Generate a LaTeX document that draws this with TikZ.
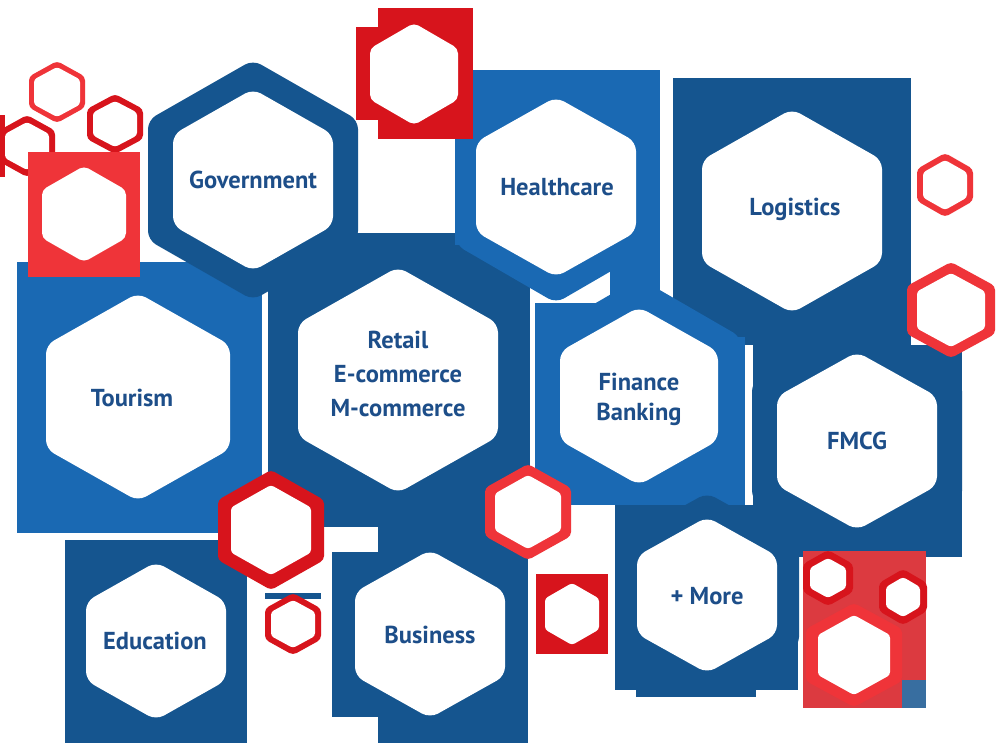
\documentclass[tikz,border=0pt]{standalone}
\usepackage{fontspec}
\setmainfont{PT Sans}
\definecolor{dblue}{HTML}{15558F}
\definecolor{lblue}{HTML}{1A69B3}
\definecolor{dred}{HTML}{D7141C}
\definecolor{lred}{HTML}{EF3439}
\definecolor{mred}{HTML}{DC3A40}
\definecolor{txtblue}{HTML}{1D4E89}
% hexagon (pointy top): centre x, centre y, half width, half height
\newcommand\hexshape[4]{(#1-#3,#2) -- (#1-#3,#2-#4/2) -- (#1,#2-#4) -- (#1+#3,#2-#4/2) -- (#1+#3,#2+#4/2) -- (#1,#2+#4) -- (#1-#3,#2+#4/2) -- cycle}
% ring: colour, cx, cy, outer hw, outer hh, inner hw, inner hh
\newcommand\hexring[7]{%
  \fill[#1,rounded corners=4pt] \hexshape{#2}{#3}{#4}{#5};
  \fill[white,rounded corners=3pt] \hexshape{#2}{#3}{#6}{#7};}
\tikzset{
  rc/.style={rounded corners=9pt},
  lbl/.style={text=txtblue, align=center, inner sep=0pt,
    font=\fontsize{24.5}{34}\selectfont\bfseries},
  lbltwo/.style={lbl, font=\fontsize{24.5}{30}\selectfont\bfseries},
}
\begin{document}
\begin{tikzpicture}[x=1pt,y=-1pt]
\useasboundingbox (0,0) rectangle (1000,750);
\fill[white] (0,0) rectangle (1000,750);

% Tourism
\fill[lblue] (17,262) rectangle (262,533);
\fill[white,rc] \hexshape{138}{397}{92}{104};
\node[lbl] (tourism) at (132,398) {Tourism};

% Retail
\fill[dblue] (268,233) rectangle (530,527);
\fill[white,rc] \hexshape{398}{380}{100}{113};
\node[lbl] (retail) at (398,374) {Retail\\E-commerce\\M-commerce};

% Government
\fill[dblue,rc] \hexshape{253}{180}{105}{120};
\fill[white,rc] \hexshape{253}{180}{80}{91};
\node[lbl] (gov) at (253,180) {Government};

% Healthcare
\fill[lblue] (455,70) rectangle (660,245);
\fill[lblue] (610,245) rectangle (660,300);
\fill[lblue,rc] \hexshape{556}{187}{100}{116};
\fill[white,rc] \hexshape{556}{187}{80}{90};
\node[lbl] (health) at (557,187) {Healthcare};

% Logistics
\fill[dblue] (673,78) rectangle (911,345);
\fill[dblue,rc] \hexshape{792}{211}{112}{130};
\fill[white,rc] \hexshape{792}{211}{90}{102};
\node[lbl] (logistics) at (795,209) {Logistics};

% Finance
\fill[lblue] (535,337) rectangle (745,505);
\fill[lblue] (535,303) rectangle (640,337);
\fill[lblue,rc] \hexshape{639}{396}{102}{118};
\fill[white,rc] \hexshape{639}{396}{79}{89};
\node[lbltwo] (finance) at (639,399) {Finance\\Banking};

% FMCG
\fill[dblue] (753,345) rectangle (962,557);
\fill[dblue,rc] \hexshape{857}{441}{105}{118};
\fill[white,rc] \hexshape{857}{441}{80}{89};
\node[lbl] (fmcg) at (857,441) {FMCG};

% Education
\fill[dblue] (65,540) rectangle (247,743);
\fill[white,rc] \hexshape{156}{641}{70}{79};
\node[lbl] (education) at (155,641) {Education};

% Business
\fill[dblue] (332,552) rectangle (528,717);
\fill[dblue] (378,527) rectangle (528,743);
\fill[white,rc] \hexshape{430}{634}{75}{84};
\node[lbl] (business) at (430,635) {Business};

% More
\fill[dblue] (615,505) rectangle (757,690);
\fill[dblue] (757,525) rectangle (798,690);
\fill[dblue] (636,505) rectangle (756,697);
\fill[dblue,rc] \hexshape{707}{595}{92}{102};
\fill[white,rc] \hexshape{707}{595}{70}{78};
\node[lbl] (more) at (707,596) {+ More};

% red hexagons
\hexring{lred}{57}{92}{28}{31}{23}{25}
\fill[dred] (0,115) rectangle (5,177);
\hexring{dred}{27}{146}{28}{31}{22}{24}
\hexring{dred}{115}{124}{28}{30}{22}{23}
\fill[lred] (28,152) rectangle (140,277);
\fill[white,rounded corners=5pt] \hexshape{84}{214}{42}{48};
\fill[dred] (378,8) rectangle (473,139);
\fill[dred] (356,27) rectangle (378,120);
\fill[white,rounded corners=5pt] \hexshape{414}{74}{44}{51};
\hexring{lred}{945}{185}{28}{32}{22}{25}
\hexring{lred}{951}{310}{44}{48}{34}{37}
\hexring{dred}{271}{530}{53}{60}{40}{45}
\fill[dblue] (265,593) rectangle (321,599);
\hexring{dred}{293}{624}{28}{31}{22}{24}
\hexring{lred}{528}{512}{43}{48}{33}{37}
\fill[dred] (536,574) rectangle (608,654);
\fill[white,rounded corners=3pt] \hexshape{572}{614}{27}{31};
\fill[mred] (803,551) rectangle (926,708);
\fill[dblue!85] (902,680) rectangle (926,708);
\hexring{dred}{828}{578}{25}{28}{18}{20}
\hexring{dred}{903}{597}{24}{28}{17}{20}
\hexring{lred}{854}{655}{48}{52}{36}{40}
\end{tikzpicture}
\end{document}
